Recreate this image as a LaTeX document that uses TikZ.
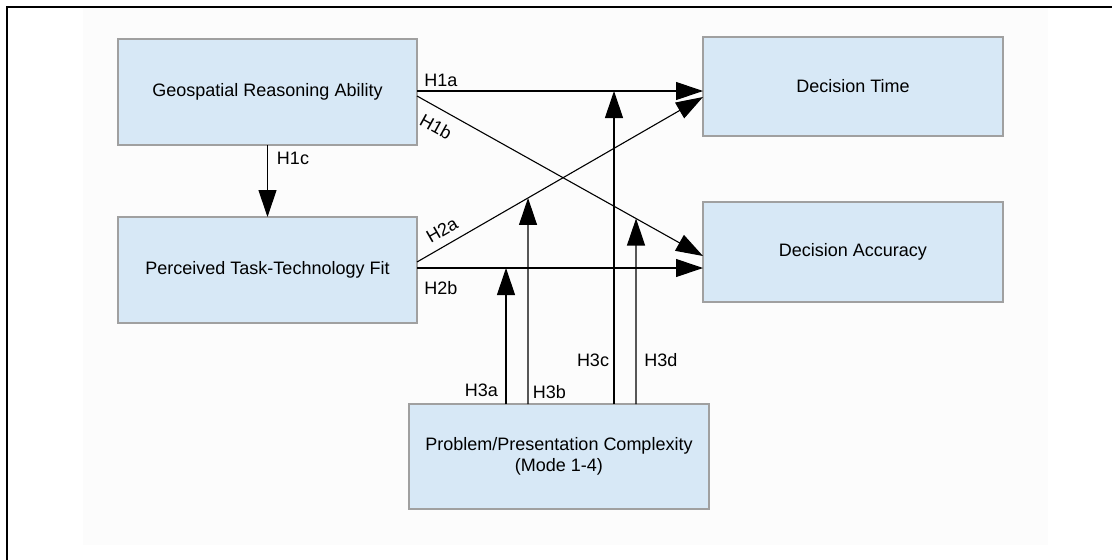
\documentclass[tikz,border=0pt]{standalone}
\usepackage{fontspec}
\setmainfont{Liberation Sans}
\usetikzlibrary{arrows.meta,calc}
\definecolor{boxfill}{RGB}{215,232,246}
\definecolor{boxline}{RGB}{160,160,160}
\definecolor{bgfaint}{RGB}{252,252,252}
\tikzset{
  varbox/.style={draw=boxline, line width=1.4pt, fill=boxfill, inner sep=0pt, outer sep=0pt,
    align=center, font=\fontsize{18}{21}\selectfont},
  hyp/.style={line width=1.1pt, -{Triangle[length=27pt,width=18pt]}},
  hlab/.style={inner sep=0pt, font=\fontsize{18}{21}\selectfont}
}
\begin{document}
\begin{tikzpicture}[x=1pt,y=-1pt]
\useasboundingbox (0,0) rectangle (1112,560);
\fill[bgfaint] (83,8) rectangle (1048,545);
\draw[line width=2.2pt] (7,560) -- (7,7) -- (1112,7);

\node[varbox, minimum width=299pt, minimum height=106pt] (gra) at (267.5,92) {Geospatial Reasoning Ability};
\node[varbox, minimum width=299pt, minimum height=106pt] (ttf) at (267.5,270) {Perceived Task-Technology Fit};
\node[varbox, minimum width=300pt, minimum height=99pt] (dt) at (853,86.5) {Decision Time};
\node[varbox, minimum width=300pt, minimum height=100pt] (da) at (853,252) {Decision Accuracy};
\node[varbox, minimum width=300pt, minimum height=105pt] (ppc) at (559,456.5) {Problem/Presentation Complexity\\(Mode 1-4)};

% connector end points
\coordinate (s1a) at ($(gra.north east)+(0,52)$);
\coordinate (s1b) at ($(gra.north east)+(0,57)$);
\coordinate (s2a) at ($(ttf.north east)+(0,45)$);
\coordinate (s2b) at ($(ttf.north east)+(0,51)$);
\coordinate (e1a) at ($(dt.north west)+(0,54)$);
\coordinate (e2a) at ($(dt.north west)+(0,60)$);
\coordinate (e1b) at ($(da.north west)+(0,54)$);
\coordinate (e2b) at ($(da.north west)+(0,66)$);
\coordinate (b3a) at ($(ppc.north west)+(97,0)$);
\coordinate (b3b) at ($(ppc.north west)+(119,0)$);
\coordinate (b3c) at ($(ppc.north west)+(205,0)$);
\coordinate (b3d) at ($(ppc.north west)+(227,0)$);
\coordinate (u3b) at ($(b3b)+(0,-400)$);
\coordinate (u3d) at ($(b3d)+(0,-400)$);
\coordinate (t3a) at (b3a |- s2b);
\coordinate (t3b) at (intersection of b3b--u3b and s2a--e2a);
\coordinate (t3c) at (b3c |- s1a);
\coordinate (t3d) at (intersection of b3d--u3d and s1b--e1b);

\draw[hyp] (s1a) -- (e1a);
\draw[hyp] (s1b) -- (e1b);
\draw[hyp] (s2a) -- (e2a);
\draw[hyp] (s2b) -- (e2b);
\draw[hyp] (gra.south) -- (ttf.north);
\draw[hyp] (b3a) -- (t3a);
\draw[hyp] (b3b) -- (t3b);
\draw[hyp] (b3c) -- (t3c);
\draw[hyp] (b3d) -- (t3d);

\node[hlab] (l1a) at (441,80) {H1a};
\node[hlab, rotate=-29] (l1b) at (436,127) {H1b};
\node[hlab, rotate=30] (l2a) at (442,230) {H2a};
\node[hlab] (l2b) at (441,288) {H2b};
\node[hlab] (l1c) at (293,158) {H1c};
\node[hlab] (l3a) at (481.5,390) {H3a};
\node[hlab] (l3b) at (549.5,392) {H3b};
\node[hlab] (l3c) at (593,360) {H3c};
\node[hlab] (l3d) at (661,360) {H3d};
\end{tikzpicture}
\end{document}
